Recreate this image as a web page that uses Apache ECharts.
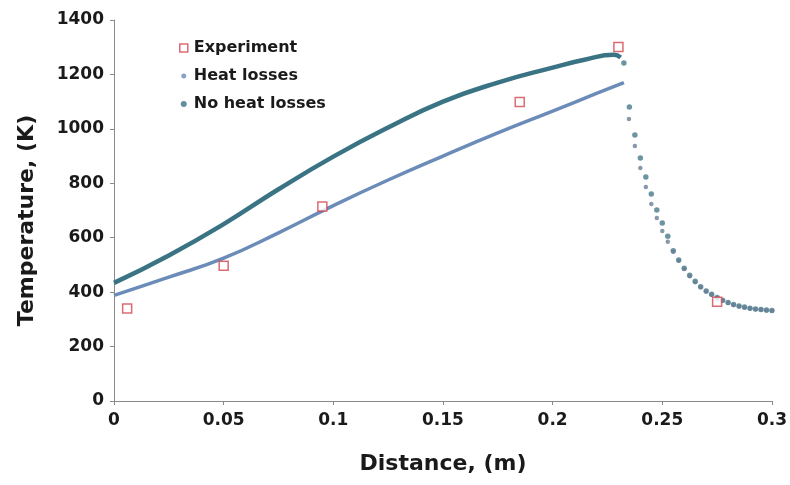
<!DOCTYPE html>
<html>
<head>
<meta charset="utf-8">
<script src="https://cdn.jsdelivr.net/npm/echarts@6/dist/echarts.min.js"></script>
<style>
  html, body { margin: 0; padding: 0; background: #fff; }
  #chart { width: 790px; height: 485px; }
</style>
</head>
<body>
<div id="chart"></div>
<script>
// Measured temperatures along the reactor
const expX = [0.006, 0.05, 0.095, 0.185, 0.23, 0.275];
const expT = [340, 497, 715, 1099, 1301, 365];

// Model with heat losses: heating zone (continuous curve)
const hlRiseX = [0, 0.025, 0.05, 0.075, 0.1, 0.125, 0.15, 0.175, 0.2, 0.22, 0.2325];
const hlRiseT = [388, 455, 525, 618, 718, 812, 900, 985, 1065, 1130, 1170];
// Model with heat losses: cooling zone (sampled points)
const hlFallX = [0.2348, 0.2375, 0.24, 0.2425, 0.245, 0.2475, 0.25, 0.2525, 0.255, 0.2575, 0.26, 0.2625, 0.265, 0.2675, 0.27, 0.2725, 0.275, 0.2775, 0.28, 0.2825, 0.285, 0.2875, 0.29, 0.2925, 0.295, 0.2975, 0.3];
const hlFallT = [1036, 937, 856, 786, 724, 672, 625, 585, 548, 515, 485, 458, 436, 418, 402, 390, 378, 368, 360, 353, 347, 343, 340, 337, 335, 333, 332];

// Adiabatic model (no heat losses): heating zone
const nhRiseX = [0, 0.025, 0.05, 0.075, 0.1, 0.125, 0.15, 0.175, 0.2, 0.215, 0.228, 0.231];
const nhRiseT = [434, 535, 650, 778, 898, 1005, 1100, 1170, 1225, 1255, 1272, 1262];
// Adiabatic model: cooling zone
const nhFallX = [0.2325, 0.235, 0.2375, 0.24, 0.2425, 0.245, 0.2475, 0.25, 0.2525, 0.255, 0.2575, 0.26, 0.2625, 0.265, 0.2675, 0.27, 0.2725, 0.275, 0.2775, 0.28, 0.2825, 0.285, 0.2875, 0.29, 0.2925, 0.295, 0.2975, 0.3];
const nhFallT = [1242, 1080, 977, 893, 823, 761, 702, 654, 605, 552, 518, 488, 462, 440, 420, 404, 392, 380, 370, 362, 355, 349, 345, 341, 338, 336, 334, 333];

// Axis ticks
const xTicks = [0, 0.05, 0.1, 0.15, 0.2, 0.25, 0.3];
const yTicks = [0, 200, 400, 600, 800, 1000, 1200, 1400];

const pairs = (xs, ys) => xs.map((x, i) => [x, ys[i]]);

const RED = '#d2464f';
const HL = '#6b8cb8';
const HL_PT = '#687e96';
const NH = '#3a7484';
const FONT = 'DejaVu Sans, Verdana, sans-serif';
const INK = '#1a1a1a';
const AXIS = '#8a8a8a';

// Legend glyphs: invisible corner moves fix the box so the dots keep their own size
const DOT_SMALL = 'path://M0,0M10,10M5,2.5A2.5,2.5,0,1,1,5,7.5A2.5,2.5,0,1,1,5,2.5Z';
const DOT_LARGE = 'path://M0,0M10,10M5,2A3,3,0,1,1,5,8A3,3,0,1,1,5,2Z';
const SQUARE = 'path://M0,0M10,10M1,1L9,1L9,9L1,9Z';

const chart = echarts.init(document.getElementById('chart'));
chart.setOption({
  animation: false,
  backgroundColor: '#fff',
  grid: { left: 114, right: 16, top: 20, bottom: 84, containLabel: false },
  legend: {
    orient: 'vertical',
    left: 173,
    top: 34,
    itemGap: 10,
    itemWidth: 10,
    itemHeight: 10,
    textStyle: { fontFamily: FONT, fontWeight: 'bold', fontSize: 16, lineHeight: 18, color: INK },
    data: [
      { name: 'Experiment', icon: SQUARE, itemStyle: { color: '#fff', borderColor: RED, borderWidth: 1.5 } },
      { name: 'Heat losses', icon: DOT_SMALL, itemStyle: { color: HL, borderWidth: 0 } },
      { name: 'No heat losses', icon: DOT_LARGE, itemStyle: { color: NH, borderWidth: 0 } }
    ]
  },
  xAxis: {
    type: 'value',
    min: xTicks[0],
    max: xTicks[xTicks.length - 1],
    interval: 0.05,
    name: 'Distance, (m)',
    nameLocation: 'middle',
    nameGap: 52,
    nameTextStyle: { fontFamily: FONT, fontWeight: 'bold', fontSize: 22, color: INK },
    axisLine: { lineStyle: { color: AXIS, width: 1 } },
    axisTick: { show: true, length: 4, lineStyle: { color: AXIS } },
    axisLabel: {
      fontFamily: FONT, fontWeight: 'bold', fontSize: 17, color: INK, margin: 11,
      formatter: v => String(+v.toFixed(2))
    },
    splitLine: { show: false }
  },
  yAxis: {
    type: 'value',
    min: yTicks[0],
    max: yTicks[yTicks.length - 1],
    interval: 200,
    name: 'Temperature, (K)',
    nameLocation: 'middle',
    nameGap: 76,
    nameTextStyle: { fontFamily: FONT, fontWeight: 'bold', fontSize: 22, color: INK, padding: [0, 20, 0, 0] },
    axisLine: { show: true, lineStyle: { color: AXIS, width: 1 } },
    axisTick: { show: true, length: 4, lineStyle: { color: AXIS } },
    axisLabel: {
      fontFamily: FONT, fontWeight: 'bold', fontSize: 17, color: INK, margin: 10,
      formatter: v => String(v)
    },
    splitLine: { show: false }
  },
  series: [
    {
      name: 'Heat losses',
      type: 'scatter',
      symbol: 'circle',
      symbolSize: 4.5,
      itemStyle: { color: HL_PT },
      data: pairs(hlFallX, hlFallT),
      z: 3
    },
    {
      name: 'Heat losses',
      type: 'line',
      smooth: true,
      showSymbol: false,
      lineStyle: { color: HL, width: 3.5 },
      itemStyle: { color: HL },
      data: pairs(hlRiseX, hlRiseT),
      z: 3
    },
    {
      name: 'No heat losses',
      type: 'scatter',
      symbol: 'circle',
      symbolSize: 5.5,
      itemStyle: { color: '#477a8a' },
      data: pairs(nhFallX, nhFallT),
      z: 2
    },
    {
      name: 'No heat losses',
      type: 'line',
      smooth: true,
      showSymbol: false,
      lineStyle: { color: NH, width: 4.5 },
      itemStyle: { color: NH },
      data: pairs(nhRiseX, nhRiseT),
      z: 2
    },
    {
      name: 'Experiment',
      type: 'scatter',
      symbol: 'rect',
      symbolSize: 9,
      itemStyle: { color: '#fff', borderColor: RED, borderWidth: 1.5 },
      data: pairs(expX, expT),
      z: 5
    }
  ]
});
</script>
</body>
</html>
